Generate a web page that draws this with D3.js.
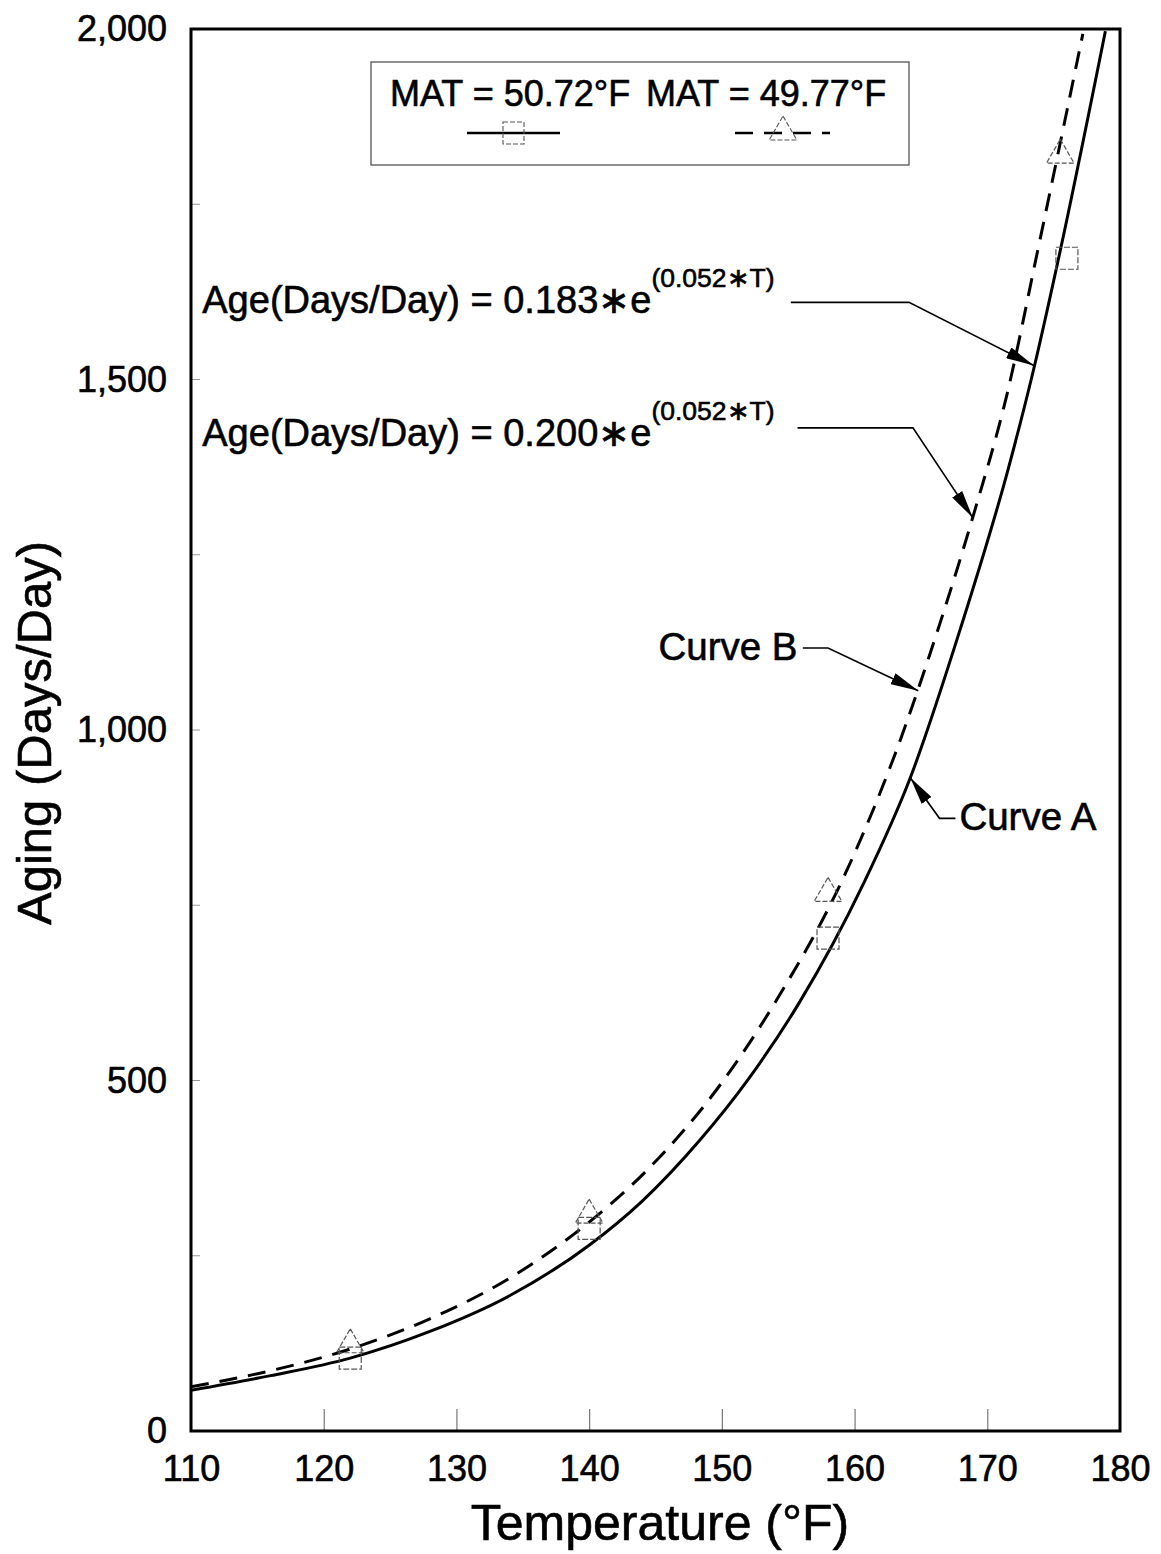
<!DOCTYPE html>
<html>
<head>
<meta charset="utf-8">
<script src="https://cdn.jsdelivr.net/npm/d3@7"></script>
<style>
  body { margin: 0; background: #fff; }
  text { font-family: "Liberation Sans", Arial, Helvetica, sans-serif; fill: #000; stroke: #000; stroke-width: 0.6px; }
</style>
</head>
<body>
<svg id="chart" width="1161" height="1554"></svg>
<script>
// Curve A (solid, MAT = 50.72°F)
const curveA_T = [110, 116, 122, 128, 134, 140, 144, 148.3, 152, 155.8, 160.7, 164.2, 168, 171.6, 173.5, 175.5, 178.9];
const curveA_V = [58, 79, 104, 142, 193, 265, 328, 414, 502, 610, 782, 932, 1146, 1374, 1515, 1684, 1997];

// Curve B (dashed, MAT = 49.77°F)
const curveB_T = [110, 116, 122, 128, 134, 140, 144.2, 150, 154.1, 159.3, 163, 166.5, 168.9, 171.5, 173.8, 177.2];
const curveB_V = [63, 86, 117, 160, 218, 298, 369, 497, 614, 795, 963, 1156, 1303, 1480, 1684, 1993];

// measured points
const squareT = [122, 140, 158, 176];
const squareV = [104, 289, 703, 1673];
const triT = [122, 140, 158, 175.5];
const triV = [123, 308, 767, 1820];

const xTicks = [110, 120, 130, 140, 150, 160, 170, 180];
const yTicks = [0, 500, 1000, 1500, 2000];
const yMinorTicks = [250, 500, 750, 1000, 1250, 1500, 1750];

const svg = d3.select("#chart");
const pLeft = 191, pRight = 1120, pTop = 29, pBottom = 1431;

const x = d3.scaleLinear().domain([110, 180]).range([pLeft, pRight]);
const y = d3.scaleLinear().domain([0, 2000]).range([pBottom, pTop]);

const defs = svg.append("defs");
defs.append("clipPath").attr("id", "plot-clip")
  .append("rect")
  .attr("x", pLeft).attr("y", pTop)
  .attr("width", pRight - pLeft).attr("height", pBottom - pTop);

defs.append("marker")
  .attr("id", "arrow")
  .attr("viewBox", "0 0 28 12")
  .attr("refX", 28).attr("refY", 6)
  .attr("markerWidth", 28).attr("markerHeight", 12)
  .attr("markerUnits", "userSpaceOnUse")
  .attr("orient", "auto")
  .append("path")
  .attr("d", "M0,0 L28,6 L0,12 Z")
  .attr("fill", "#000");

// x axis ticks (inside) and labels
const xAxis = d3.axisBottom(x).tickValues(xTicks).tickSize(-22).tickPadding(24).tickFormat(d3.format("d"));
const gx = svg.append("g").attr("transform", `translate(0,${pBottom})`).call(xAxis);
gx.select(".domain").remove();
gx.selectAll(".tick line").attr("stroke", "#777").attr("stroke-width", 1.2)
  .filter(d => d === 110 || d === 180).remove();
gx.selectAll(".tick text").style("font-size", "36px").attr("fill", "#000")
  .attr("font-family", "Liberation Sans, Arial, sans-serif");

// y axis labels
const yAxis = d3.axisLeft(y).tickValues(yTicks).tickSize(0).tickPadding(24).tickFormat(d3.format(","));
const gy = svg.append("g").attr("transform", `translate(${pLeft},0)`).call(yAxis);
gy.select(".domain").remove();
gy.selectAll(".tick text").style("font-size", "36px").attr("fill", "#000")
  .attr("font-family", "Liberation Sans, Arial, sans-serif");

// small minor ticks on the left edge
svg.append("g").selectAll("line").data(yMinorTicks).join("line")
  .attr("x1", pLeft).attr("x2", pLeft + 9)
  .attr("y1", d => y(d)).attr("y2", d => y(d))
  .attr("stroke", "#999").attr("stroke-width", 1);

// curves
const line = d3.line().x(d => x(d[0])).y(d => y(d[1])).curve(d3.curveMonotoneX);
const plot = svg.append("g").attr("clip-path", "url(#plot-clip)");

plot.append("path")
  .datum(d3.zip(curveA_T, curveA_V))
  .attr("d", line)
  .attr("fill", "none").attr("stroke", "#000").attr("stroke-width", 3);

plot.append("path")
  .datum(d3.zip(curveB_T, curveB_V))
  .attr("d", line)
  .attr("fill", "none").attr("stroke", "#000").attr("stroke-width", 3)
  .attr("stroke-dasharray", "18,11");

// markers
const sq = 11;
plot.append("g").selectAll("rect").data(d3.zip(squareT, squareV)).join("rect")
  .attr("x", d => x(d[0]) - sq).attr("y", d => y(d[1]) - sq)
  .attr("width", sq * 2).attr("height", sq * 2)
  .attr("fill", "none").attr("stroke", "#555").attr("stroke-width", 1.2)
  .attr("stroke-dasharray", "6,2");

const tri = d3.symbol().type(d3.symbolTriangle).size(330);
plot.append("g").selectAll("path").data(d3.zip(triT, triV)).join("path")
  .attr("transform", d => `translate(${x(d[0])},${y(d[1])})`)
  .attr("d", tri)
  .attr("fill", "none").attr("stroke", "#555").attr("stroke-width", 1.2)
  .attr("stroke-dasharray", "5,2");

// frame
svg.append("rect")
  .attr("x", pLeft).attr("y", pTop)
  .attr("width", pRight - pLeft).attr("height", pBottom - pTop)
  .attr("fill", "none").attr("stroke", "#000").attr("stroke-width", 3);

// legend
const lg = svg.append("g");
lg.append("rect").attr("x", 371).attr("y", 62).attr("width", 538).attr("height", 103)
  .attr("fill", "#fff").attr("stroke", "#555").attr("stroke-width", 1.3);
lg.append("text").attr("x", 390).attr("y", 106).style("font-size", "36px")
  .text("MAT = 50.72°F");
lg.append("text").attr("x", 646).attr("y", 106).style("font-size", "36px")
  .text("MAT = 49.77°F");
lg.append("line").attr("x1", 467).attr("x2", 560).attr("y1", 133).attr("y2", 133)
  .attr("stroke", "#000").attr("stroke-width", 2.5);
lg.append("rect").attr("x", 503).attr("y", 122).attr("width", 21).attr("height", 22)
  .attr("fill", "none").attr("stroke", "#555").attr("stroke-width", 1.1).attr("stroke-dasharray", "5,2");
lg.append("line").attr("x1", 735).attr("x2", 830).attr("y1", 133).attr("y2", 133)
  .attr("stroke", "#000").attr("stroke-width", 2.5).attr("stroke-dasharray", "18,11");
lg.append("path").attr("transform", "translate(783,132)").attr("d", tri)
  .attr("fill", "none").attr("stroke", "#555").attr("stroke-width", 1.1).attr("stroke-dasharray", "5,2");

// annotations (positions in data units)
const leader = d3.line().x(d => x(d[0])).y(d => y(d[1]));

const eqs = [
  { coef: "0.183", text: [110.85, 1595], path: [[155.2, 1610], [164.1, 1610], [173.5, 1520]] },
  { coef: "0.200", text: [110.85, 1405], path: [[155.7, 1431], [164.4, 1431], [168.9, 1303]] }
];
eqs.forEach(e => {
  const t = svg.append("text").attr("x", x(e.text[0])).attr("y", y(e.text[1]))
    .style("font-size", "38px");
  t.append("tspan").text(`Age(Days/Day) = ${e.coef}\u2217e`);
  t.append("tspan").attr("dy", -26).style("font-size", "26.5px").text("(0.052\u2217T)");
  svg.append("path")
    .attr("d", leader(e.path))
    .attr("fill", "none").attr("stroke", "#000").attr("stroke-width", 1.6)
    .attr("marker-end", "url(#arrow)");
});

const curveLabels = [
  { label: "Curve B", anchor: "end", text: [155.7, 1100], path: [[156.1, 1117], [158.0, 1117], [164.8, 1056]] },
  { label: "Curve A", anchor: "start", text: [167.9, 857], path: [[167.6, 874], [166.4, 874], [164.2, 932]] }
];
curveLabels.forEach(c => {
  svg.append("text").attr("x", x(c.text[0])).attr("y", y(c.text[1]))
    .attr("text-anchor", c.anchor).style("font-size", "38.5px").text(c.label);
  svg.append("path")
    .attr("d", leader(c.path))
    .attr("fill", "none").attr("stroke", "#000").attr("stroke-width", 1.6)
    .attr("marker-end", "url(#arrow)");
});

// axis titles
svg.append("text").attr("x", 660).attr("y", 1540)
  .attr("text-anchor", "middle").style("font-size", "50px")
  .text("Temperature (°F)");
svg.append("text").attr("transform", "translate(51,733) rotate(-90)")
  .attr("text-anchor", "middle").style("font-size", "49px")
  .text("Aging (Days/Day)");
</script>
</body>
</html>
